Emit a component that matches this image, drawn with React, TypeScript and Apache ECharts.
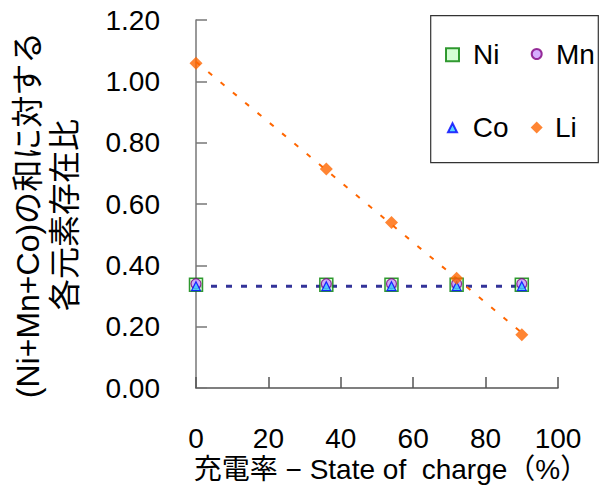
import React, { useEffect, useRef } from "react";
import * as echarts from "echarts";

const socX = [0, 36, 54, 72, 90];
const niVals = [0.337, 0.337, 0.337, 0.337, 0.337];
const mnVals = [0.34, 0.34, 0.34, 0.34, 0.34];
const coVals = [0.332, 0.332, 0.332, 0.332, 0.332];
const liVals = [1.059, 0.714, 0.54, 0.358, 0.174];
const xTicks = [0, 20, 40, 60, 80, 100];
const yTitleLines = ["(Ni+Mn+Co)の和に対する", "各元素存在比"];
const xTitle = "充電率 − State of\u00a0\u00a0charge（%）";

const FONT = "'Liberation Sans', 'Noto Sans CJK JP', sans-serif";

function regression(xs: number[], ys: number[]) {
  const n = xs.length;
  const mx = xs.reduce((a, b) => a + b, 0) / n;
  const my = ys.reduce((a, b) => a + b, 0) / n;
  let sxy = 0, sxx = 0;
  for (let i = 0; i < n; i++) {
    sxy += (xs[i] - mx) * (ys[i] - my);
    sxx += (xs[i] - mx) * (xs[i] - mx);
  }
  const slope = sxy / sxx;
  const icpt = my - slope * mx;
  const x0 = Math.min(...xs), x1 = Math.max(...xs);
  return [[x0, icpt + slope * x0], [x1, icpt + slope * x1]];
}

const zip = (xs: number[], ys: number[]) => xs.map((x, i) => [x, ys[i]]);

export default function App() {
  const ref = useRef<HTMLDivElement>(null);
  useEffect(() => {
    if (!ref.current) return;
    const chart = echarts.init(ref.current, null, { renderer: "svg" });
    const cobalt = regression(socX, coVals);
    const li = regression(socX, liVals);
    const legendBase = (name: string, left: number, top: number, size: number, pad: number) => ({
      data: [name],
      left,
      top,
      orient: "horizontal",
      padding: 0,
      itemWidth: size,
      itemHeight: size,
      selectedMode: false,
      textStyle: {
        fontFamily: FONT,
        fontSize: 28,
        color: "#000",
        lineHeight: 30,
        padding: [0, 0, 0, pad],
      },
    });
    chart.setOption({
      animation: false,
      backgroundColor: "#fff",
      grid: { left: 196, right: 43, top: 20, bottom: 98, containLabel: false },
      xAxis: {
        type: "value",
        min: 0,
        max: 100,
        interval: 20,
        axisLine: { lineStyle: { color: "#555", width: 1.5 } },
        axisTick: { inside: true, length: 11, lineStyle: { color: "#555", width: 1.5 } },
        axisLabel: {
          margin: 36,
          fontSize: 28,
          fontFamily: FONT,
          color: "#000",
          formatter: (v: number) => (xTicks.includes(v) ? String(v) : ""),
        },
        splitLine: { show: false },
      },
      yAxis: {
        type: "value",
        min: 0,
        max: 1.2,
        interval: 0.2,
        axisLine: { show: true, lineStyle: { color: "#777", width: 1.5 } },
        axisTick: { show: true, inside: true, length: 11, lineStyle: { color: "#777", width: 1.5 } },
        axisLabel: {
          margin: 36,
          fontSize: 28,
          fontFamily: FONT,
          color: "#000",
          formatter: (v: number) => v.toFixed(2),
        },
        splitLine: { show: false },
      },
      legend: [
        legendBase("Ni", 445, 39.7, 13, 9),
        legendBase("Mn", 530.7, 39, 10, 9.3),
        legendBase("Co", 447, 112.7, 9, 10.7),
        legendBase("Li", 530.7, 112.5, 12, 7.3),
      ],
      graphic: [
        {
          type: "rect",
          shape: { x: 430.7, y: 15.7, width: 167.6, height: 147 },
          style: { fill: "none", stroke: "#333", lineWidth: 1.2 },
          z: 1,
        },
        {
          type: "text",
          x: 46.5,
          y: 215,
          rotation: Math.PI / 2,
          style: {
            text: yTitleLines.join("\n"),
            font: `32px ${FONT}`,
            fill: "#000",
            textAlign: "center",
            textVerticalAlign: "middle",
            lineHeight: 37,
          },
        },
        {
          type: "text",
          x: 391,
          y: 469,
          style: {
            text: xTitle,
            font: `28px ${FONT}`,
            fill: "#000",
            textAlign: "center",
            textVerticalAlign: "middle",
          },
        },
      ],
      series: [
        {
          name: "CoTrend",
          type: "line",
          data: cobalt,
          showSymbol: false,
          z: 1,
          lineStyle: { color: "#333399", width: 3, type: [6, 9] },
        },
        {
          name: "LiTrend",
          type: "line",
          data: li,
          showSymbol: false,
          z: 1,
          lineStyle: { color: "#ff6600", width: 2, type: [5, 11] },
        },
        {
          name: "Ni",
          type: "scatter",
          data: zip(socX, niVals),
          symbol: "rect",
          symbolSize: 13,
          z: 2,
          itemStyle: { color: "#ccffcc", borderColor: "#008000", borderWidth: 1.5 },
        },
        {
          name: "Mn",
          type: "scatter",
          data: zip(socX, mnVals),
          symbol: "circle",
          symbolSize: 10,
          z: 3,
          itemStyle: { color: "#cc99ff", borderColor: "#800080", borderWidth: 1.2 },
        },
        {
          name: "Co",
          type: "scatter",
          data: zip(socX, coVals),
          symbol: "triangle",
          symbolSize: 9,
          z: 4,
          itemStyle: { color: "#33ccff", borderColor: "#0000ff", borderWidth: 1.2 },
        },
        {
          name: "Li",
          type: "scatter",
          data: zip(socX, liVals),
          symbol: "diamond",
          symbolSize: 13,
          z: 5,
          itemStyle: { color: "#ff6600" },
        },
      ],
    });
    return () => chart.dispose();
  }, []);
  return <div ref={ref} style={{ width: 601, height: 486, position: "absolute", left: 0, top: 0 }} />;
}
